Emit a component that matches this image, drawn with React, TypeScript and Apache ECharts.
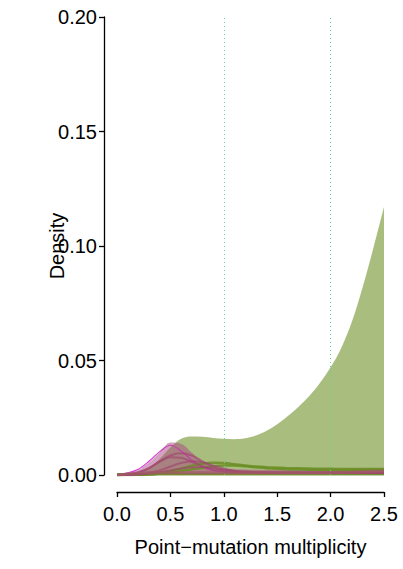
import React, { useEffect, useRef } from "react";
import * as echarts from "echarts";

const xs = [0, 0.1, 0.2, 0.3, 0.4, 0.5, 0.6, 0.7, 0.8, 0.9, 1.0, 1.1, 1.2, 1.3, 1.4, 1.5, 1.6, 1.7, 1.8, 1.9, 2.0, 2.1, 2.2, 2.3, 2.4, 2.5];

const greenArea = [0, 0.0002, 0.001, 0.003, 0.007, 0.012, 0.0158, 0.0168, 0.0167, 0.0162, 0.0158, 0.0156, 0.016, 0.0172, 0.0193, 0.0222, 0.0258, 0.0298, 0.0345, 0.0402, 0.047, 0.0555, 0.067, 0.082, 0.099, 0.117];
const pinkArea = [0, 0.0008, 0.0022, 0.0055, 0.0098, 0.0142, 0.0137, 0.0098, 0.0056, 0.0033, 0.0027, 0.0025, 0.0024, 0.0023, 0.0023, 0.0023, 0.0023, 0.0023, 0.0023, 0.0023, 0.0023, 0.0024, 0.0025, 0.0026, 0.0027, 0.0028];
const magentaLine = [0, 0.0009, 0.0025, 0.006, 0.0102, 0.013, 0.0105, 0.0065, 0.0035, 0.002, 0.0015, 0.0012, 0.001, 0.001, 0.001, 0.001, 0.001, 0.001, 0.001, 0.001, 0.001, 0.001, 0.001, 0.001, 0.001, 0.001];
const pinkLines = [
  [0, 0.0002, 0.0012, 0.003, 0.0058, 0.0085, 0.0095, 0.0085, 0.006, 0.0035, 0.002, 0.0014, 0.0012, 0.0011, 0.001, 0.001, 0.001, 0.001, 0.001, 0.001, 0.001, 0.001, 0.001, 0.001, 0.001, 0.001],
  [0, 0.0002, 0.001, 0.003, 0.006, 0.0078, 0.0075, 0.0058, 0.0038, 0.0022, 0.0014, 0.0011, 0.001, 0.001, 0.001, 0.001, 0.001, 0.001, 0.001, 0.001, 0.001, 0.001, 0.001, 0.001, 0.001, 0.001],
  [0, 0, 0.0003, 0.0009, 0.002, 0.0037, 0.0052, 0.006, 0.0056, 0.0042, 0.0028, 0.0018, 0.0014, 0.0012, 0.0011, 0.001, 0.001, 0.001, 0.001, 0.001, 0.001, 0.001, 0.001, 0.001, 0.001, 0.001],
  [0, 0, 0.0002, 0.0006, 0.0012, 0.002, 0.0028, 0.0034, 0.0035, 0.003, 0.0024, 0.0018, 0.0015, 0.0013, 0.0012, 0.0011, 0.0011, 0.0011, 0.0011, 0.0011, 0.0011, 0.0011, 0.0011, 0.0011, 0.0011, 0.0011],
];
const oliveLines = [
  [0, 0, 0.0001, 0.0003, 0.0008, 0.0016, 0.0028, 0.004, 0.0049, 0.0053, 0.0052, 0.0047, 0.0041, 0.0037, 0.0034, 0.0032, 0.003, 0.0029, 0.0028, 0.0027, 0.0027, 0.0026, 0.0026, 0.0026, 0.0026, 0.0026],
  [0, 0, 0.0001, 0.0002, 0.0005, 0.001, 0.0017, 0.0025, 0.0032, 0.0038, 0.0041, 0.0041, 0.0038, 0.0034, 0.003, 0.0027, 0.0025, 0.0024, 0.0023, 0.0022, 0.0022, 0.0022, 0.0022, 0.0022, 0.0022, 0.0022],
  [0.0003, 0.0003, 0.0003, 0.0003, 0.0003, 0.0003, 0.0003, 0.0003, 0.0003, 0.0003, 0.0003, 0.0003, 0.0003, 0.0003, 0.0003, 0.0003, 0.0003, 0.0003, 0.0003, 0.0003, 0.0003, 0.0003, 0.0003, 0.0003, 0.0003, 0.0003],
];
const pinkBase = [0, 0.0004, 0.0008, 0.001, 0.001, 0.001, 0.001, 0.001, 0.001, 0.001, 0.001, 0.001, 0.001, 0.001, 0.001, 0.001, 0.001, 0.001, 0.001, 0.001, 0.001, 0.0011, 0.0012, 0.0014, 0.0016, 0.0018];
const refLines = [1.0, 2.0];
const xTicks = [0, 0.5, 1.0, 1.5, 2.0, 2.5];
const yTicks = [0, 0.05, 0.1, 0.15, 0.2];

const pairs = (ys: number[]) => xs.map((x, i) => [x, ys[i]]);

export default function App() {
  const ref = useRef<HTMLDivElement>(null);
  useEffect(() => {
    if (!ref.current) return;
    const chart = echarts.init(ref.current, undefined, { renderer: "svg" });
    const font = "'Liberation Sans', Arial, Helvetica, sans-serif";
    const base = { type: "line", smooth: 0.35, showSymbol: false, xAxisIndex: 0, yAxisIndex: 0 };
    const series: any[] = [];
    series.push({
      ...base,
      data: pairs(greenArea),
      lineStyle: { width: 0 },
      areaStyle: { color: "rgba(107,142,35,0.58)", opacity: 1 },
      z: 1,
      markLine: {
        silent: true,
        symbol: "none",
        label: { show: false },
        lineStyle: { type: [1, 3], color: "#5fd893", width: 1 },
        data: refLines.map((v) => ({ xAxis: v })),
      },
    });
    series.push({
      ...base,
      data: pairs(magentaLine),
      lineStyle: { width: 1.2, color: "#d83ad8" },
      z: 2,
    });
    series.push({
      ...base,
      data: pairs(pinkArea),
      lineStyle: { width: 0 },
      areaStyle: { color: "rgba(170,70,130,0.5)", opacity: 1 },
      z: 3,
    });
    oliveLines.forEach((d) =>
      series.push({
        ...base,
        data: pairs(d),
        lineStyle: { width: 2.5, color: "rgba(107,142,35,0.85)" },
        z: 4,
      })
    );
    pinkLines.forEach((d) =>
      series.push({
        ...base,
        data: pairs(d),
        lineStyle: { width: 2, color: "rgba(160,70,110,0.65)" },
        z: 5,
      })
    );
    series.push({
      ...base,
      data: pairs(pinkBase),
      lineStyle: { width: 3, color: "rgba(160,90,100,0.75)" },
      z: 5,
    });
    const hiddenX = (gridIndex: number) => ({ type: "value", gridIndex, min: 0, max: 2.5, interval: 0.5, show: false });
    const hiddenY = (gridIndex: number) => ({ type: "value", gridIndex, min: 0, max: 0.2, interval: 0.05, show: false });
    chart.setOption({
      animation: false,
      backgroundColor: "#ffffff",
      grid: [
        { left: 117, right: 19, top: 17, bottom: 94, outerBoundsMode: "none" },
        { left: 117, right: 19, top: 17, bottom: 77, outerBoundsMode: "none" },
        { left: 104, right: 32, top: 17, bottom: 94, outerBoundsMode: "none" },
      ],
      xAxis: [
        hiddenX(0),
        {
          type: "value",
          gridIndex: 1,
          min: 0,
          max: 2.5,
          interval: 0.5,
          name: "Point\u2212mutation multiplicity",
          nameLocation: "middle",
          nameGap: 45,
          nameMoveOverlap: false,
          nameTextStyle: { fontFamily: font, fontSize: 20, color: "#000", verticalAlign: "top" },
          axisLine: { show: true, onZero: false, lineStyle: { color: "#000", width: 1.3 } },
          axisTick: { show: true, length: 5, lineStyle: { color: "#000", width: 1.3 } },
          axisLabel: {
            fontFamily: font,
            fontSize: 20,
            color: "#000",
            margin: 12,
            formatter: (v: number) => (xTicks.includes(v) ? v.toFixed(1) : ""),
          },
          splitLine: { show: false },
        },
        hiddenX(2),
      ],
      yAxis: [
        hiddenY(0),
        hiddenY(1),
        {
          type: "value",
          gridIndex: 2,
          min: 0,
          max: 0.2,
          interval: 0.05,
          name: "Density",
          nameLocation: "middle",
          nameGap: 37,
          nameRotate: 90,
          nameMoveOverlap: false,
          nameTextStyle: { fontFamily: font, fontSize: 20, color: "#000" },
          axisLine: { show: true, onZero: false, lineStyle: { color: "#000", width: 1.3 } },
          axisTick: { show: true, length: 5, lineStyle: { color: "#000", width: 1.3 } },
          axisLabel: {
            fontFamily: font,
            fontSize: 20,
            color: "#000",
            margin: 7,
            formatter: (v: number) => (yTicks.some((t) => Math.abs(t - v) < 1e-9) ? v.toFixed(2) : ""),
          },
          splitLine: { show: false },
        },
      ],
      series,
    });
    return () => chart.dispose();
  }, []);
  return <div ref={ref} style={{ width: 403, height: 569, position: "absolute", left: 0, top: 0 }} />;
}
